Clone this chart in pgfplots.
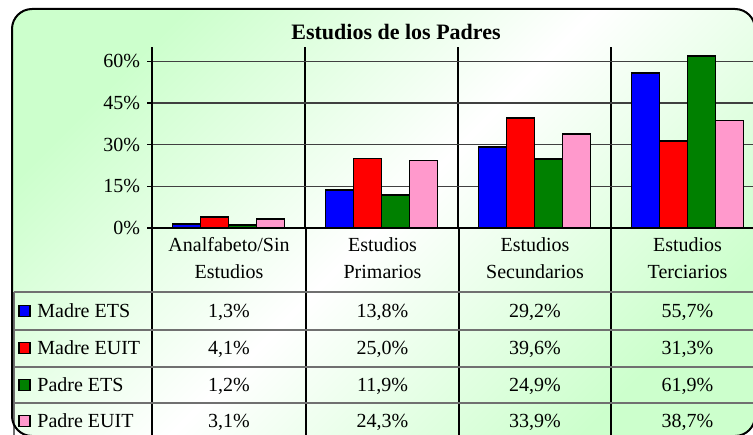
\documentclass[border=0pt]{standalone}
\usepackage{fontspec}
\setmainfont{Liberation Serif}
\usepackage{pgfplots}
\pgfplotsset{compat=1.18}
\definecolor{lgreen}{HTML}{CCFFCC}
\definecolor{mblue}{HTML}{0000FF}
\definecolor{mred}{HTML}{FF0000}
\definecolor{pgreen}{HTML}{008000}
\definecolor{ppink}{HTML}{FF99CC}
\definecolor{tline}{HTML}{707070}
\definecolor{gline}{HTML}{404040}

% one row of the data table: centre y, then the four values
\newcommand{\tablerow}[5]{%
  \node[anchor=base] at (229,#1-6.8) {#2};
  \node[anchor=base] at (382.5,#1-6.8) {#3};
  \node[anchor=base] at (535,#1-6.8) {#4};
  \node[anchor=base] at (687.5,#1-6.8) {#5};
}

\begin{document}
\begin{tikzpicture}
% background of the chart (1 unit = 1 px of the reference)
\begin{scope}[x=0.5pt,y=0.5pt]
\shade[top color=lgreen, bottom color=lgreen, middle color=white, shading angle=45,
  rounded corners=10pt] (12,-2) rectangle (755,425);
\end{scope}

\begin{axis}[
  at={(76pt,103pt)}, anchor=south west,
  scale only axis, width=306pt, height=90.5pt,
  xmin=-0.5, xmax=3.5, ymin=0, ymax=65.2,
  ybar=0pt, bar width=14pt,
  axis x line*=bottom, axis y line*=left,
  axis line style={-, black, line width=0.6pt},
  xtick={-0.5,0.5,1.5,2.5,3.5}, xticklabels={},
  xmajorgrids, ymajorgrids,
  x grid style={black, line width=0.6pt},
  y grid style={gline, line width=0.6pt},
  ytick={0,15,30,45,60},
  yticklabels={0\%,15\%,30\%,45\%,60\%},
  tick align=outside,
  major tick length=2.5pt,
  xtick style={draw=none},
  ytick style={black, line width=0.6pt},
  yticklabel style={font=\fontsize{10}{12}\selectfont},
  /pgf/number format/assume math mode=true,
  clip=false,
]
\addplot[draw=black, line width=0.9pt, fill=mblue] coordinates {(0,1.3) (1,13.8) (2,29.2) (3,55.7)};
\addplot[draw=black, line width=0.9pt, fill=mred] coordinates {(0,4.1) (1,25.0) (2,39.6) (3,31.3)};
\addplot[draw=black, line width=0.9pt, fill=pgreen] coordinates {(0,1.2) (1,11.9) (2,24.9) (3,61.9)};
\addplot[draw=black, line width=0.9pt, fill=ppink] coordinates {(0,3.1) (1,24.3) (2,33.9) (3,38.7)};
\end{axis}

\begin{scope}[x=0.5pt,y=0.5pt, every node/.style={font=\fontsize{10}{13.5}\selectfont, inner sep=0pt}]
% title
\node[anchor=base, font=\fontsize{11}{13}\bfseries] at (396,394.5) {Estudios de los Padres};
% data table lines
\foreach \x in {152,306,459,611,764} \draw[black, line width=0.6pt] (\x,206) -- (\x,-10);
\draw[tline, line width=0.6pt] (14,142) -- (14,-10);
\foreach \y in {142,104,67,31} \draw[tline, line width=0.6pt] (14,\y) -- (770,\y);
% category labels
\node[align=center] at (229,176) {Analfabeto/Sin\\Estudios};
\node[align=center] at (382.5,176) {Estudios\\Primarios};
\node[align=center] at (535,176) {Estudios\\Secundarios};
\node[align=center] at (687.5,176) {Estudios\\Terciarios};
% legend keys and series names
\foreach \c/\n/\yc in {mblue/Madre ETS/123, mred/Madre EUIT/86, pgreen/Padre ETS/49, ppink/Padre EUIT/13} {
  \draw[black, line width=0.8pt, fill=\c] (19,\yc-5.5) rectangle (30,\yc+5.5);
  \node[anchor=base west] at (37,\yc-6.8) {\n};
}
% values
\tablerow{123}{1,3\%}{13,8\%}{29,2\%}{55,7\%}
\tablerow{86}{4,1\%}{25,0\%}{39,6\%}{31,3\%}
\tablerow{49}{1,2\%}{11,9\%}{24,9\%}{61,9\%}
\tablerow{13}{3,1\%}{24,3\%}{33,9\%}{38,7\%}
% chart border
\draw[black, line width=1pt, rounded corners=10pt] (12,-2) rectangle (755,425);
\end{scope}
\pgfresetboundingbox
\useasboundingbox (0,0) rectangle (376.5pt,217pt);
\end{tikzpicture}
\end{document}
